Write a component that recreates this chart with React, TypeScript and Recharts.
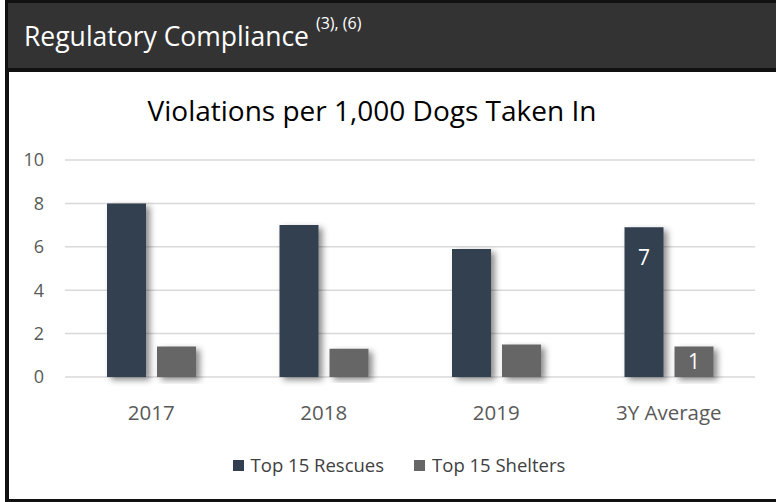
import { BarChart, Bar, XAxis, YAxis, CartesianGrid, Legend, LabelList, Rectangle } from "recharts";

const categories = ["2017", "2018", "2019", "3Y Average"];
const rescues = [8.0, 7.0, 5.9, 6.9];
const shelters = [1.4, 1.3, 1.5, 1.4];
const yTicks = [0, 2, 4, 6, 8, 10];
const labelledCategory = "3Y Average";

const series = [
  { key: "rescues", name: "Top 15 Rescues", color: "#333f50" },
  { key: "shelters", name: "Top 15 Shelters", color: "#666666" },
];

const data = categories.map((c, i) => ({ name: c, rescues: rescues[i], shelters: shelters[i] }));

const font = "'Open Sans', 'Segoe UI', sans-serif";

const ShadowBar = (props: any) => <Rectangle {...props} filter="url(#barShadow)" />;

const makeLabel = (offset: number | null) => (props: any) => {
  const { x, y, width, height, value, index } = props;
  if (categories[index] !== labelledCategory) return null;
  const ty = offset == null ? y + height / 2 + 7 : y + offset;
  return (
    <text x={x + width / 2} y={ty} textAnchor="middle" fill="#ffffff" fontSize={21} fontFamily={font}>
      {Math.round(value)}
    </text>
  );
};

const renderLegend = (props: any) => (
  <div style={{ display: "flex", justifyContent: "center", gap: 30, height: 24, lineHeight: "24px", fontFamily: font, fontSize: 18.5, color: "#404040", paddingLeft: 43 }}>
    {(props.payload || []).map((p: any) => (
      <span key={p.value} style={{ display: "inline-flex", alignItems: "center" }}>
        <span style={{ display: "inline-block", width: 11, height: 11, background: p.color, marginRight: 7 }} />
        {p.value}
      </span>
    ))}
  </div>
);

export default function App() {
  return (
    <div style={{ position: "fixed", left: 0, top: 0, width: 776, height: 502, overflow: "hidden", background: "#fff" }}>
      <style>{"html,body{margin:0;padding:0;overflow:hidden;}"}</style>
      <svg width={0} height={0} style={{ position: "absolute" }}>
        <defs>
          <filter id="barShadow" x="-30%" y="-10%" width="170%" height="130%">
            <feDropShadow dx={4} dy={3} stdDeviation={3} floodColor="#000" floodOpacity={0.45} />
          </filter>
        </defs>
      </svg>
      <div style={{ position: "absolute", left: 5, top: 0, width: 771, height: 72, background: "#333333", borderTop: "3px solid #111", borderLeft: "3px solid #111", borderBottom: "4px solid #111", boxSizing: "border-box" }}>
        <span style={{ position: "absolute", left: 16, top: 20, lineHeight: "26.5px", color: "#fff", fontFamily: font, fontSize: 26.5, whiteSpace: "nowrap" }}>
          Regulatory Compliance
          <span style={{ fontSize: 16, marginLeft: 7, position: "relative", top: -17 }}>(3), (6)</span>
        </span>
      </div>
      <div style={{ position: "absolute", left: 5, top: 72, width: 771, height: 430, borderLeft: "4px solid #111", borderBottom: "3px solid #111", boxSizing: "border-box" }} />
      <div style={{ position: "absolute", left: 0, top: 96, width: 744, textAlign: "center", fontFamily: font, fontSize: 28, lineHeight: "28px", color: "#000", whiteSpace: "nowrap" }}>
        Violations per 1,000 Dogs Taken In
      </div>
      <div style={{ position: "absolute", left: 0, top: 130 }}>
        <BarChart width={776} height={370} data={data} margin={{ top: 30, right: 21, left: 0, bottom: 23 }} barSize={39} barGap={11}>
          <CartesianGrid stroke="#d9d9d9" strokeWidth={1.5} vertical={false} />
          <XAxis dataKey="name" axisLine={false} tickLine={false} tickMargin={22} height={76} tick={{ fill: "#595959", fontSize: 20.5, fontFamily: font }} />
          <YAxis domain={[0, 10]} ticks={yTicks} width={65} axisLine={false} tickLine={false} tickMargin={15} tick={{ fill: "#595959", fontSize: 18, fontFamily: font }} />
          <Legend verticalAlign="bottom" content={renderLegend} />
          {series.map((s) => (
            <Bar key={s.key} dataKey={s.key} name={s.name} fill={s.color} shape={ShadowBar} isAnimationActive={false}>
              <LabelList dataKey={s.key} content={makeLabel(s.key === "rescues" ? 38 : null)} />
            </Bar>
          ))}
        </BarChart>
      </div>
    </div>
  );
}
